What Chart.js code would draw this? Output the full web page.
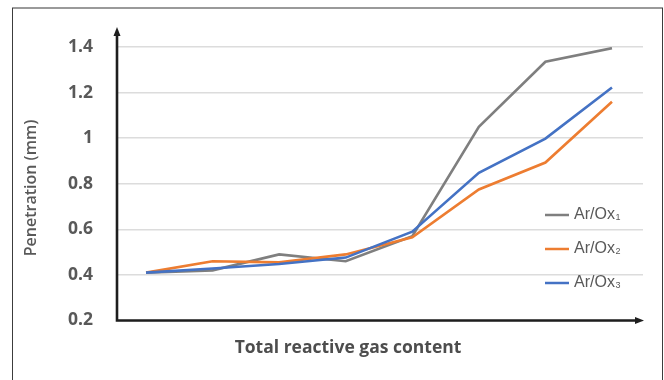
<!DOCTYPE html>
<html>
<head>
<meta charset="utf-8">
<script src="https://cdn.jsdelivr.net/npm/chart.js@4.4.1/dist/chart.umd.min.js"></script>
<style>
  html, body { margin: 0; padding: 0; background: #ffffff; }
  #wrap { position: relative; width: 664px; height: 380px; }
</style>
</head>
<body>
<div id="wrap"><canvas id="c" width="664" height="380"></canvas></div>
<script>
// Eight increasing levels of reactive gas content (unlabelled steps)
const gasSteps = [1, 2, 3, 4, 5, 6, 7, 8];
const seriesNames = ['Ar/Ox\u2081', 'Ar/Ox\u2082', 'Ar/Ox\u2083'];
// Penetration depth in mm
const arOx1 = [0.41, 0.42, 0.49, 0.46, 0.57, 1.05, 1.335, 1.395];
const arOx2 = [0.41, 0.46, 0.455, 0.49, 0.565, 0.775, 0.893, 1.16];
const arOx3 = [0.41, 0.428, 0.448, 0.476, 0.59, 0.848, 0.998, 1.222];
const yTicks = [0.2, 0.4, 0.6, 0.8, 1, 1.2, 1.4];
const xTitle = 'Total reactive gas content';
const yTitle = 'Penetration (mm)';

const colors = ['#7f7f7f', '#ed7d31', '#4472c4'];
const allSeries = [arOx1, arOx2, arOx3];

const toPoints = vals => vals.map((v, i) => ({ x: gasSteps[i], y: v }));

const subDigits = { '\u2081': '1', '\u2082': '2', '\u2083': '3' };

// Frame, arrowed axes, axis titles and the legend
const decor = {
  id: 'decor',
  beforeDraw(chart) {
    const ctx = chart.ctx;
    ctx.save();
    ctx.fillStyle = '#ffffff';
    ctx.fillRect(0, 0, chart.width, chart.height);
    // outer frame
    ctx.strokeStyle = '#9a9a9a';
    ctx.lineWidth = 2;
    ctx.beginPath();
    ctx.moveTo(12, 8); ctx.lineTo(663, 8);
    ctx.stroke();
    ctx.strokeStyle = '#3c3c3c';
    ctx.lineWidth = 1;
    ctx.beginPath();
    ctx.moveTo(12.5, 8); ctx.lineTo(12.5, 380);
    ctx.moveTo(662.5, 8); ctx.lineTo(662.5, 380);
    ctx.stroke();
    ctx.restore();
  },
  afterDraw(chart) {
    const ctx = chart.ctx;
    const a = chart.chartArea;
    ctx.save();
    // axes with arrowheads
    ctx.strokeStyle = '#1e1e1e';
    ctx.fillStyle = '#1e1e1e';
    ctx.lineWidth = 2.6;
    ctx.beginPath();
    ctx.moveTo(a.left, a.bottom);
    ctx.lineTo(a.left, 34);
    ctx.moveTo(a.left - 1.3, a.bottom);
    ctx.lineTo(a.right - 5, a.bottom);
    ctx.stroke();
    ctx.beginPath();
    ctx.moveTo(a.left, 27);
    ctx.lineTo(a.left - 3.5, 36);
    ctx.lineTo(a.left + 3.5, 36);
    ctx.closePath();
    ctx.fill();
    ctx.beginPath();
    ctx.moveTo(a.right + 1, a.bottom);
    ctx.lineTo(a.right - 8, a.bottom - 3.5);
    ctx.lineTo(a.right - 8, a.bottom + 3.5);
    ctx.closePath();
    ctx.fill();

    // axis titles
    ctx.fillStyle = '#4d4d4d';
    ctx.font = 'bold 17.5px "Open Sans"';
    ctx.textAlign = 'center';
    ctx.textBaseline = 'middle';
    ctx.fillText(xTitle, 348, 348);

    ctx.save();
    ctx.translate(31, 188);
    ctx.rotate(-Math.PI / 2);
    ctx.fillStyle = '#595959';
    ctx.font = '600 16px "Open Sans"';
    ctx.fillText(yTitle, 0, 0);
    ctx.restore();

    // legend
    ctx.textAlign = 'left';
    ctx.textBaseline = 'middle';
    const rows = [215, 249, 283];
    chart.data.datasets.forEach((ds, i) => {
      const y = rows[i];
      ctx.strokeStyle = ds.borderColor;
      ctx.lineWidth = 2.5;
      ctx.beginPath();
      ctx.moveTo(545, y);
      ctx.lineTo(569, y);
      ctx.stroke();
      const label = ds.label;
      const last = label.slice(-1);
      const base = subDigits[last] ? label.slice(0, -1) : label;
      ctx.fillStyle = '#595959';
      ctx.font = '16px "Liberation Sans"';
      ctx.fillText(base, 574, y);
      if (subDigits[last]) {
        const w = ctx.measureText(base).width;
        ctx.font = '9px "Liberation Sans"';
        ctx.fillText(subDigits[last], 574 + w + 0.5, y + 3);
      }
    });
    ctx.restore();
  }
};

new Chart(document.getElementById('c'), {
  type: 'line',
  data: {
    datasets: allSeries.map((vals, i) => ({
      label: seriesNames[i],
      data: toPoints(vals),
      borderColor: colors[i],
      backgroundColor: colors[i],
      borderWidth: 2.6,
      pointRadius: 0,
      tension: 0,
      order: 3 - i
    }))
  },
  options: {
    responsive: false,
    animation: false,
    events: [],
    layout: { padding: { left: 12, right: 21, top: 47, bottom: 0 } },
    plugins: { legend: { display: false }, tooltip: { enabled: false } },
    scales: {
      x: {
        type: 'linear',
        min: 0.564,
        max: 8.466,
        border: { display: false },
        grid: { display: false, drawTicks: false },
        ticks: { display: false },
        afterFit(scale) { scale.height = 59.5; }
      },
      y: {
        type: 'linear',
        min: 0.2,
        max: 1.4,
        afterBuildTicks(scale) { scale.ticks = yTicks.map(v => ({ value: v })); },
        border: { display: false },
        grid: { color: '#dcdcdc', lineWidth: 1.5, drawTicks: false },
        ticks: {
          color: '#595959',
          font: { family: '"Open Sans"', size: 17.5, weight: 'bold' },
          padding: 24,
          callback: v => String(+v.toFixed(1))
        },
        afterFit(scale) { scale.width = 105; }
      }
    }
  },
  plugins: [decor]
});
</script>
</body>
</html>
